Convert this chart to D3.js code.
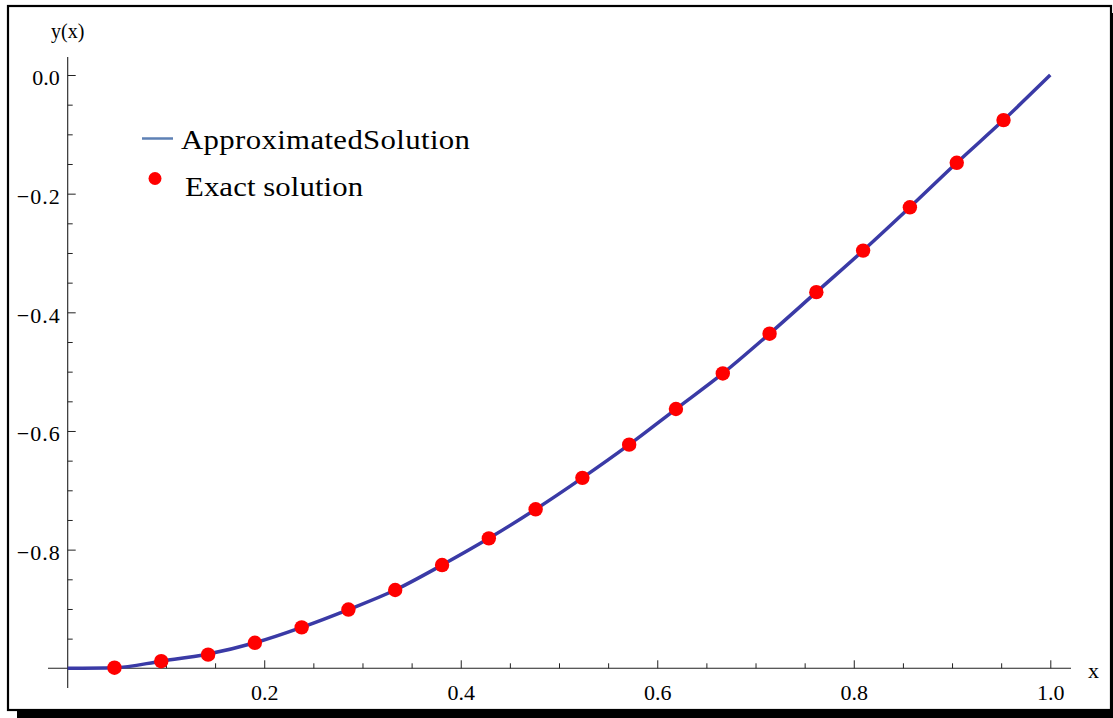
<!DOCTYPE html>
<html>
<head>
<meta charset="utf-8">
<script src="https://cdn.jsdelivr.net/npm/d3@7"></script>
<style>
  html, body { margin: 0; padding: 0; background: #fff; }
  svg { display: block; }
  text { font-family: "Liberation Serif", "Times New Roman", serif; fill: #000; }
</style>
</head>
<body>
<svg id="chart" width="1113" height="718"></svg>
<script>
// ---- data ----
const exactX = [0.0476, 0.0952, 0.1429, 0.1905, 0.2381, 0.2857, 0.3333, 0.3810, 0.4286, 0.4762,
                0.5238, 0.5714, 0.6190, 0.6667, 0.7143, 0.7619, 0.8095, 0.8571, 0.9048, 0.9524];
const exactY = [-0.999, -0.988, -0.977, -0.957, -0.931, -0.901, -0.868, -0.826, -0.781, -0.732,
                -0.679, -0.623, -0.563, -0.503, -0.436, -0.366, -0.296, -0.223, -0.148, -0.076];
const approxX = [0.0, 0.0476, 0.0952, 0.1429, 0.1905, 0.2381, 0.2857, 0.3333, 0.3810, 0.4286, 0.4762,
                 0.5238, 0.5714, 0.6190, 0.6667, 0.7143, 0.7619, 0.8095, 0.8571, 0.9048, 0.9524, 1.0];
const approxY = [-1.0, -0.999, -0.988, -0.976, -0.957, -0.931, -0.901, -0.868, -0.826, -0.781, -0.732,
                 -0.679, -0.623, -0.563, -0.503, -0.436, -0.366, -0.296, -0.223, -0.148, -0.076, 0.0];
const xMajorTicks = [0.2, 0.4, 0.6, 0.8, 1.0];
const xMinorTicks = [0.05, 0.1, 0.15, 0.25, 0.3, 0.35, 0.45, 0.5, 0.55, 0.65, 0.7, 0.75, 0.85, 0.9, 0.95];
const yMajorTicks = [0.0, -0.2, -0.4, -0.6, -0.8];
const yMinorTicks = [-0.05, -0.1, -0.15, -0.25, -0.3, -0.35, -0.45, -0.5, -0.55, -0.65, -0.7, -0.75, -0.85, -0.9, -0.95];
const legendLabels = ["ApproximatedSolution", "Exact solution"];
const axisLabels = { x: "x", y: "y(x)" };

// ---- setup ----
const svg = d3.select("#chart");

// drop shadow + frame
svg.append("rect").attr("x", 17).attr("y", 13).attr("width", 1120).attr("height", 720).attr("fill", "#000");
svg.append("rect").attr("x", 8).attr("y", 6).attr("width", 1103).attr("height", 704)
   .attr("fill", "#fff").attr("stroke", "#000").attr("stroke-width", 2.2);

const x = d3.scaleLinear().domain([0, 1]).range([67.7, 1050.3]);
const y = d3.scaleLinear().domain([-1, 0]).range([668.3, 75]);

const axisColor = "#222";

// axis lines
svg.append("line").attr("x1", 48).attr("x2", 1071).attr("y1", y(-1)).attr("y2", y(-1))
   .attr("stroke", axisColor).attr("stroke-width", 1.1);
svg.append("line").attr("x1", x(0)).attr("x2", x(0)).attr("y1", 57).attr("y2", 688)
   .attr("stroke", axisColor).attr("stroke-width", 1.1);

// x axis major
const gx = svg.append("g").attr("transform", `translate(0,${y(-1)})`)
  .call(d3.axisBottom(x).tickValues(xMajorTicks).tickFormat(d3.format(".1f"))
        .tickSizeInner(-8).tickSizeOuter(0).tickPadding(16));
const gxm = svg.append("g").attr("transform", `translate(0,${y(-1)})`)
  .call(d3.axisBottom(x).tickValues(xMinorTicks).tickFormat("")
        .tickSizeInner(-5).tickSizeOuter(0));

// y axis major
const gy = svg.append("g").attr("transform", `translate(${x(0)},0)`)
  .call(d3.axisLeft(y).tickValues(yMajorTicks).tickFormat(d3.format(".1f"))
        .tickSizeInner(-8).tickSizeOuter(0).tickPadding(8));
const gym = svg.append("g").attr("transform", `translate(${x(0)},0)`)
  .call(d3.axisLeft(y).tickValues(yMinorTicks).tickFormat("")
        .tickSizeInner(-5).tickSizeOuter(0));

[gx, gxm, gy, gym].forEach(g => {
  g.select(".domain").remove();
  g.selectAll(".tick line").attr("stroke", axisColor).attr("stroke-width", 1);
  g.selectAll("text").attr("font-family", "Liberation Serif").attr("font-size", 22).attr("fill", "#000");
});
gy.selectAll("text").attr("dy", "0.44em");
gy.selectAll("text").filter(d => d < 0).attr("textLength", 43).attr("lengthAdjust", "spacing");

// axis labels
svg.append("text").attr("x", x(0)).attr("y", 38).attr("text-anchor", "middle")
   .attr("font-size", 20).text(axisLabels.y);
svg.append("text").attr("x", 1088).attr("y", 677.5).attr("font-size", 22).text(axisLabels.x);

// approximated solution curve
const lineData = approxX.map((v, i) => [v, approxY[i]]);
svg.append("path").datum(lineData)
   .attr("fill", "none").attr("stroke", "#3a3aa6").attr("stroke-width", 3.5)
   .attr("stroke-linejoin", "round")
   .attr("d", d3.line().x(d => x(d[0])).y(d => y(d[1])).curve(d3.curveMonotoneX));

// exact solution points
svg.append("g").selectAll("circle").data(exactX.map((v, i) => [v, exactY[i]])).join("circle")
   .attr("cx", d => x(d[0])).attr("cy", d => y(d[1])).attr("r", 7.2).attr("fill", "#ff0000");

// legend
const lg = svg.append("g");
lg.append("line").attr("x1", 142).attr("x2", 173).attr("y1", 138.5).attr("y2", 138.5)
  .attr("stroke", "#5e81b5").attr("stroke-width", 2.5);
lg.append("g").attr("transform", "translate(181,149) scale(1.12,1)")
  .append("text").attr("x", 0).attr("y", 0).attr("font-size", 27.5)
  .attr("textLength", 258).attr("lengthAdjust", "spacing").text(legendLabels[0]);
lg.append("circle").attr("cx", 155).attr("cy", 178.5).attr("r", 6.5).attr("fill", "#ff0000");
lg.append("g").attr("transform", "translate(185,196) scale(1.12,1)")
  .append("text").attr("x", 0).attr("y", 0).attr("font-size", 27.5)
  .attr("textLength", 159).attr("lengthAdjust", "spacing").text(legendLabels[1]);
</script>
</body>
</html>
